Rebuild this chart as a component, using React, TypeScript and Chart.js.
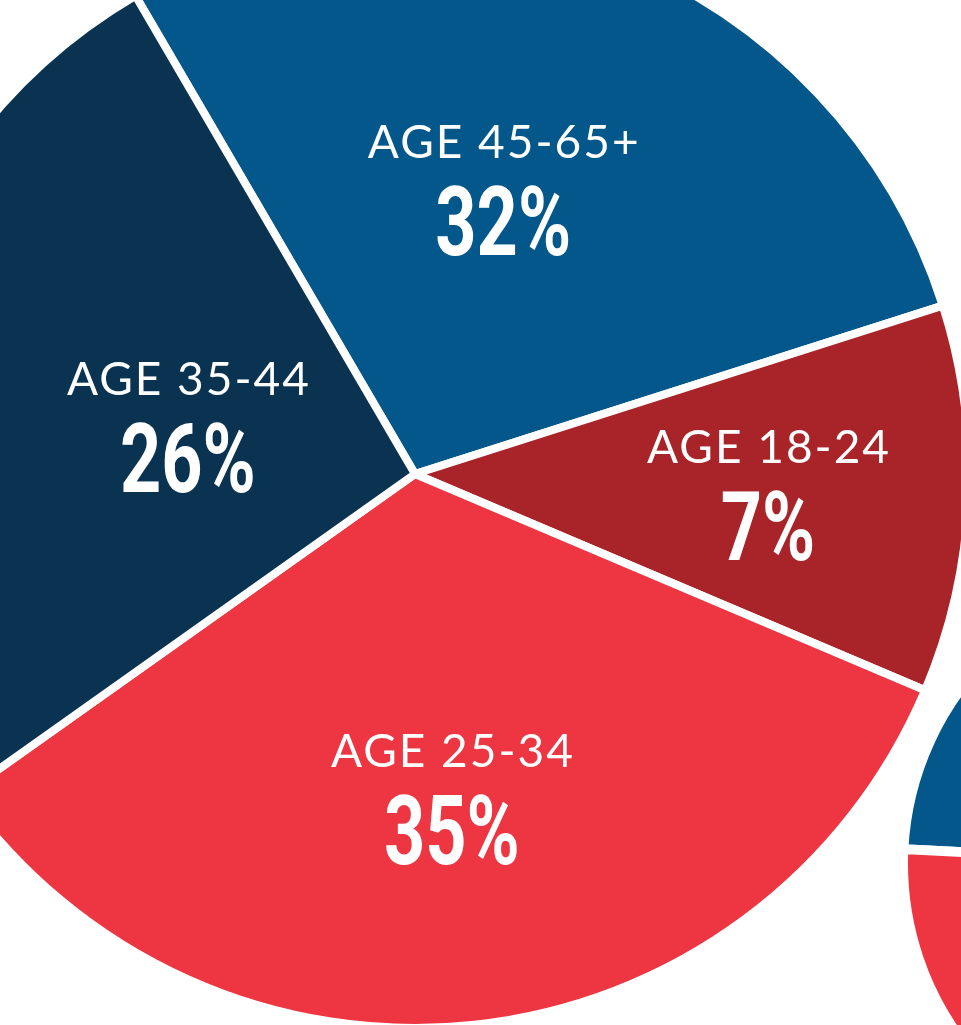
import React, { useEffect, useRef } from "react";
import { Chart, registerables } from "chart.js";

Chart.register(...registerables);

// ---- data ----
const ageGroups = ["AGE 45-65+", "AGE 18-24", "AGE 25-34", "AGE 35-44"];
const printedPercents = [32, 7, 35, 26];
// share of the circle each slice actually occupies in the drawing (%)
const sliceShares = [28.5, 11.3, 33.8, 26.4];
const sliceColors = ["#03578a", "#a92428", "#ee3542", "#0a3351"];

// second (partly visible) pie at the lower right
const sideGroups = ["AGE 45-65+", "AGE 25-34"];
const sideShares = [50, 50];
const sideColors = ["#03578a", "#ee3542"];

// ---- layout / style constants ----
const MAIN_ROTATION = -30.3;
const SIDE_ROTATION = 272.9;
const MAIN_SIZE = 1116;
const MAIN_LEFT = -143;
const MAIN_TOP = -84;
const SIDE_SIZE = 598;
const SIDE_LEFT = 898;
const SIDE_TOP = 565;

// label anchor: fraction of radius along slice bisector, and angular turn (deg)
const labelAnchors = [
  { radius: 0.592, turn: -5.4 },
  { radius: 0.6375, turn: -4.4 },
  { radius: 0.533, turn: -1.0 },
  { radius: 0.434, turn: 7.0 },
];
const LABEL_FONT = "400 46px Lato";
const LABEL_SPACING = "2px";
const PCT_FONT = "700 96px Roboto";
const PCT_SCALE_X = 0.75;
const PCT_OFFSET = 97;

const labelPlugin = {
  id: "ageLabels",
  afterDatasetsDraw(chart: any) {
    const ctx = chart.ctx;
    const meta = chart.getDatasetMeta(0);
    meta.data.forEach((arc: any, i: number) => {
      const { x, y, startAngle, endAngle, outerRadius } = arc.getProps(
        ["x", "y", "startAngle", "endAngle", "outerRadius"],
        true
      );
      const a = (startAngle + endAngle) / 2 + (labelAnchors[i].turn * Math.PI) / 180;
      const r = outerRadius * labelAnchors[i].radius;
      const lx = x + Math.cos(a) * r;
      const ly = y + Math.sin(a) * r;
      ctx.save();
      ctx.fillStyle = "#ffffff";
      ctx.textAlign = "center";
      ctx.textBaseline = "alphabetic";
      ctx.font = LABEL_FONT;
      (ctx as any).letterSpacing = LABEL_SPACING;
      ctx.fillText(ageGroups[i], lx + 1, ly);
      (ctx as any).letterSpacing = "0px";
      ctx.translate(lx, ly + PCT_OFFSET);
      ctx.scale(PCT_SCALE_X, 1);
      ctx.font = PCT_FONT;
      ctx.fillText(`${printedPercents[i]}%`, 0, 0);
      ctx.restore();
    });
  },
};

export default function App() {
  const mainRef = useRef<HTMLCanvasElement>(null);
  const sideRef = useRef<HTMLCanvasElement>(null);

  useEffect(() => {
    const common = {
      responsive: false,
      animation: false as const,
      events: [] as any[],
      layout: { padding: 0 },
      plugins: { legend: { display: false }, tooltip: { enabled: false } },
    };
    const main = new Chart(mainRef.current!, {
      type: "pie",
      data: {
        labels: ageGroups,
        datasets: [
          {
            data: sliceShares,
            backgroundColor: sliceColors,
            borderColor: "#ffffff",
            borderWidth: 8,
            hoverBorderWidth: 8,
            hoverOffset: 0,
            offset: 0,
          },
        ],
      },
      options: { ...common, rotation: MAIN_ROTATION },
      plugins: [labelPlugin],
    } as any);
    const side = new Chart(sideRef.current!, {
      type: "pie",
      data: {
        labels: sideGroups,
        datasets: [
          {
            data: sideShares,
            backgroundColor: sideColors,
            borderColor: "#ffffff",
            borderWidth: 10,
            hoverBorderWidth: 10,
            hoverOffset: 0,
            offset: 0,
          },
        ],
      },
      options: { ...common, rotation: SIDE_ROTATION },
    } as any);
    return () => {
      main.destroy();
      side.destroy();
    };
  }, []);

  return (
    <div
      style={{
        position: "fixed",
        left: 0,
        top: 0,
        width: 961,
        height: 1025,
        overflow: "hidden",
        background: "#ffffff",
      }}
    >
      <canvas
        ref={mainRef}
        width={MAIN_SIZE}
        height={MAIN_SIZE}
        style={{ position: "absolute", left: MAIN_LEFT, top: MAIN_TOP, width: MAIN_SIZE, height: MAIN_SIZE }}
      />
      <canvas
        ref={sideRef}
        width={SIDE_SIZE}
        height={SIDE_SIZE}
        style={{ position: "absolute", left: SIDE_LEFT, top: SIDE_TOP, width: SIDE_SIZE, height: SIDE_SIZE }}
      />
    </div>
  );
}
